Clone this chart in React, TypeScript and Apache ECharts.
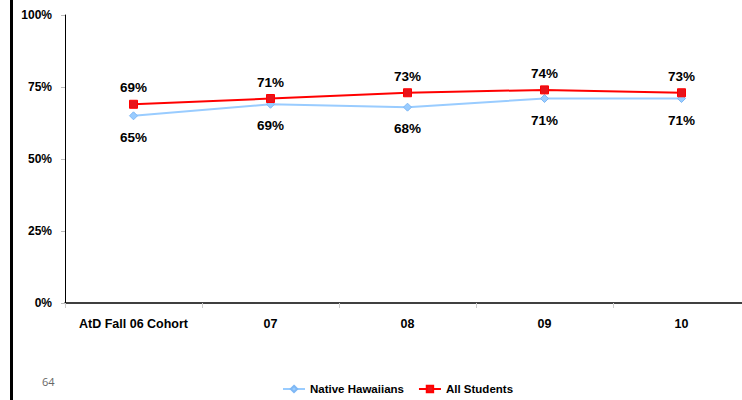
import React, { useEffect, useRef } from "react";
import * as echarts from "echarts";

const categories = ["AtD Fall 06 Cohort", "07", "08", "09", "10"];
const nativeHawaiians = [65, 69, 68, 71, 71];
const allStudents = [69, 71, 73, 74, 73];
const pageNumber = "64";

export default function App() {
  const ref = useRef<HTMLDivElement>(null);
  useEffect(() => {
    if (!ref.current) return;
    const chart = echarts.init(ref.current, undefined, { renderer: "svg" });
    const font = "'Liberation Sans', Arial, sans-serif";
    chart.setOption({
      animation: false,
      backgroundColor: "#ffffff",
      textStyle: { fontFamily: font },
      grid: { left: 65, top: 15, width: 685, height: 288, containLabel: false, outerBoundsMode: "none" },
      legend: {
        left: 277,
        top: 378,
        itemWidth: 22,
        itemHeight: 8,
        itemGap: 14,
        textStyle: { fontFamily: font, fontSize: 11.5, fontWeight: "bold", color: "#000" },
        data: ["Native Hawaiians", "All Students"],
      },
      xAxis: {
        type: "category",
        data: categories,
        boundaryGap: true,
        axisLine: { lineStyle: { color: "#000", width: 1.5 } },
        axisTick: { show: true, length: 5, lineStyle: { color: "#ccc" } },
        axisLabel: { interval: 0, fontFamily: font, fontSize: 12.5, fontWeight: "bold", color: "#000", margin: 14 },
      },
      yAxis: {
        type: "value",
        min: 0,
        max: 100,
        interval: 25,
        axisLine: { show: true, lineStyle: { color: "#000", width: 1 } },
        axisTick: { show: true, length: 4, lineStyle: { color: "#bbb" } },
        splitLine: { show: false },
        axisLabel: {
          fontFamily: font,
          fontSize: 12,
          fontWeight: "bold",
          color: "#000",
          margin: 13,
          formatter: "{value}%",
        },
      },
      series: [
        {
          name: "Native Hawaiians",
          type: "line",
          data: nativeHawaiians,
          symbol: "diamond",
          symbolSize: 8,
          lineStyle: { color: "#99CCFF", width: 2 },
          itemStyle: { color: "#99CCFF", borderColor: "#7FB8F5", borderWidth: 1 },
          label: {
            show: true,
            position: "bottom",
            distance: 10,
            formatter: "{c}%",
            fontFamily: font,
            fontSize: 13.5,
            fontWeight: "bold",
            color: "#000",
          },
        },
        {
          name: "All Students",
          type: "line",
          data: allStudents,
          symbol: "rect",
          symbolSize: 8,
          lineStyle: { color: "#FF0000", width: 2 },
          itemStyle: { color: "#E8141B", borderColor: "#FF0000", borderWidth: 1 },
          label: {
            show: true,
            position: "top",
            distance: 5,
            formatter: "{c}%",
            fontFamily: font,
            fontSize: 13.5,
            fontWeight: "bold",
            color: "#000",
          },
        },
      ],
      graphic: [
        { type: "rect", left: 10, top: 0, shape: { width: 3, height: 400 }, style: { fill: "#000" } },
        {
          type: "text",
          left: 42,
          top: 376,
          style: { text: pageNumber, fill: "#666", fontSize: 11, fontFamily: "'Open Sans', sans-serif" },
        },
      ],
    });
    return () => chart.dispose();
  }, []);
  return (
    <div
      ref={ref}
      style={{ position: "fixed", left: 0, top: 0, width: 742, height: 400, background: "#fff" }}
    />
  );
}
